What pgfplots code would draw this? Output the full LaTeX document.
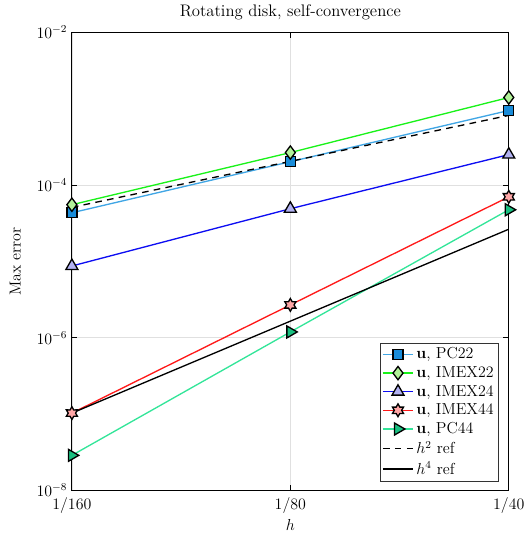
\documentclass[border=0pt]{standalone}
\usepackage{pgfplots}
\pgfplotsset{compat=1.18}
\definecolor{cPCa}{rgb}{0.25,0.65,0.9}
\definecolor{cPCaF}{rgb}{0.1,0.55,0.85}
\definecolor{cIMa}{rgb}{0.1,0.95,0.1}
\definecolor{cIMaF}{rgb}{0.7,0.95,0.6}
\definecolor{cIMb}{rgb}{0.05,0.05,0.95}
\definecolor{cIMbF}{rgb}{0.7,0.7,0.95}
\definecolor{cIMc}{rgb}{1,0.1,0.1}
\definecolor{cIMcF}{rgb}{1,0.65,0.65}
\definecolor{cPCb}{rgb}{0.2,0.9,0.6}
\definecolor{cPCbF}{rgb}{0.1,0.75,0.5}
\pgfdeclareplotmark{hexagram}{%
  \pgfpathmoveto{\pgfqpointpolar{90}{\pgfplotmarksize}}%
  \pgfpathlineto{\pgfqpointpolar{120}{0.577\pgfplotmarksize}}%
  \pgfpathlineto{\pgfqpointpolar{150}{\pgfplotmarksize}}%
  \pgfpathlineto{\pgfqpointpolar{180}{0.577\pgfplotmarksize}}%
  \pgfpathlineto{\pgfqpointpolar{210}{\pgfplotmarksize}}%
  \pgfpathlineto{\pgfqpointpolar{240}{0.577\pgfplotmarksize}}%
  \pgfpathlineto{\pgfqpointpolar{270}{\pgfplotmarksize}}%
  \pgfpathlineto{\pgfqpointpolar{300}{0.577\pgfplotmarksize}}%
  \pgfpathlineto{\pgfqpointpolar{330}{\pgfplotmarksize}}%
  \pgfpathlineto{\pgfqpointpolar{0}{0.577\pgfplotmarksize}}%
  \pgfpathlineto{\pgfqpointpolar{30}{\pgfplotmarksize}}%
  \pgfpathlineto{\pgfqpointpolar{60}{0.577\pgfplotmarksize}}%
  \pgfpathclose
  \pgfusepathqfillstroke
}
\begin{document}
\begin{tikzpicture}
\begin{axis}[
  scale only axis,
  width=329pt, height=345pt,
  xmode=log, ymode=log,
  xmin=0.00625, xmax=0.025,
  ymin=1e-8, ymax=1e-2,
  xtick={0.00625,0.0125,0.025},
  xticklabels={1/160,1/80,1/40},
  ytick={1e-8,1e-6,1e-4,1e-2},
  minor ytick={}, minor xtick={},
  yminorticks=false, xminorticks=false,
  tick align=inside,
  major tick length=4pt,
  grid=major,
  major grid style={color=black!12, line width=0.5pt},
  axis line style={line width=0.6pt},
  every tick/.style={black, line width=0.6pt},
  tick label style={font=\large},
  xticklabel style={yshift=-2pt},
  title={Rotating disk, self-convergence},
  title style={font=\fontsize{12.6}{15}\selectfont, yshift=0pt},
  xlabel={$h$}, ylabel={Max error},
  label style={font=\large},
  xlabel style={yshift=2.5pt},
  ylabel style={yshift=5pt},
  legend style={font=\large, draw=black!80, line width=0.5pt, inner sep=1.5pt, row sep=0.3pt,
    at={(0.977,0.02)}, anchor=south east},
  legend cell align=left,
  legend image code/.code={\draw[mark repeat=2,mark phase=2,#1] plot coordinates {(0cm,0cm) (0.4cm,0cm) (0.8cm,0cm)};},
]
\addplot[cPCa, line width=1pt, mark=square*, mark size=3.8pt, mark options={fill=cPCaF, draw=black, line width=1pt}]
  coordinates {(0.00625,4.33e-5) (0.0125,2.02e-4) (0.025,9.46e-4)};
\addlegendentry{$\mathbf{u}$, PC22}
\addplot[cIMa, line width=1pt, mark=diamond*, mark size=5pt, mark options={fill=cIMaF, draw=black, line width=1pt}]
  coordinates {(0.00625,5.52e-5) (0.0125,2.66e-4) (0.025,1.40e-3)};
\addlegendentry{$\mathbf{u}$, IMEX22}
\addplot[cIMb, line width=1pt, mark=triangle*, mark size=5.2pt, mark options={fill=cIMbF, draw=black, line width=1pt}]
  coordinates {(0.00625,8.7e-6) (0.0125,4.89e-5) (0.025,2.5e-4)};
\addlegendentry{$\mathbf{u}$, IMEX24}
\addplot[cIMc, line width=1pt, mark=hexagram, mark size=4.8pt, mark options={fill=cIMcF, draw=black, line width=1pt}]
  coordinates {(0.00625,1.03e-7) (0.0125,2.69e-6) (0.025,7.0e-5)};
\addlegendentry{$\mathbf{u}$, IMEX44}
\addplot[cPCb, line width=1pt, mark=triangle*, mark size=5.2pt, mark options={fill=cPCbF, draw=black, line width=1pt, rotate=-90}]
  coordinates {(0.00625,2.88e-8) (0.0125,1.19e-6) (0.025,4.74e-5)};
\addlegendentry{$\mathbf{u}$, PC44}
\addplot[black, line width=1pt, dashed, dash pattern=on 5pt off 4pt]
  coordinates {(0.00625,5.1e-5) (0.0125,2.04e-4) (0.025,8.16e-4)};
\addlegendentry{$h^2$ ref}
\addplot[black, line width=1pt]
  coordinates {(0.00625,1.03e-7) (0.0125,1.648e-6) (0.025,2.637e-5)};
\addlegendentry{$h^4$ ref}
\end{axis}
\path ([xshift=-4pt]current bounding box.west);
\end{tikzpicture}
\end{document}
